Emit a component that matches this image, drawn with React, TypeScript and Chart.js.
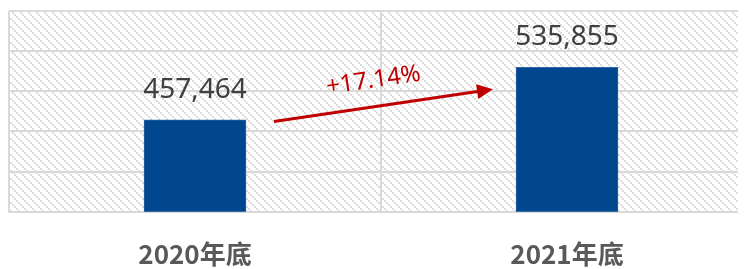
import React, { useEffect, useRef } from "react";
import { Chart, registerables } from "chart.js";

Chart.register(...registerables);

const categories = ["2020年底", "2021年底"];
const values = [457464, 535855];
const growthLabel = "+17.14%";
const yMin = 320000;
const yMax = 620000;
const yStep = 60000;

function makePattern(): CanvasPattern | string {
  const c = document.createElement("canvas");
  c.width = 8;
  c.height = 8;
  const g = c.getContext("2d");
  if (!g) return "#fff";
  g.fillStyle = "#ffffff";
  g.fillRect(0, 0, 8, 8);
  g.fillStyle = "#DCDCDC";
  for (let y = 0; y < 8; y++) {
    for (let x = 0; x < 8; x++) {
      const d = (((Math.floor(x / 2) - Math.floor(y / 2)) % 4) + 4) % 4;
      if (d === 0) g.fillRect(x, y, 1, 1);
    }
  }
  const p = g.createPattern(c, "repeat");
  return p || "#fff";
}

const bgPlugin = {
  id: "hatchBg",
  beforeDraw(chart: any) {
    const { ctx, chartArea } = chart;
    ctx.save();
    ctx.fillStyle = makePattern();
    ctx.fillRect(chartArea.left, chartArea.top, chartArea.right - chartArea.left, chartArea.bottom - chartArea.top);
    ctx.restore();
  },
};

const labelPlugin = {
  id: "valLabels",
  afterDatasetsDraw(chart: any) {
    const { ctx } = chart;
    const meta = chart.getDatasetMeta(0);
    ctx.save();
    ctx.font = "28px 'Noto Sans', sans-serif";
    ctx.fillStyle = "#404040";
    ctx.textAlign = "center";
    ctx.textBaseline = "alphabetic";
    meta.data.forEach((bar: any, i: number) => {
      ctx.fillText(values[i].toLocaleString("en-US"), bar.x, bar.y - 22);
    });

    // growth arrow
    const b0 = meta.data[0];
    const b1 = meta.data[1];
    const ys = chart.scales.y;
    const x0 = b0.x + b0.width / 2 + 28;
    const y0 = ys.getPixelForValue(455000);
    const x1 = b1.x - b1.width / 2 - 23;
    const y1 = ys.getPixelForValue(503000);
    const ang = Math.atan2(y1 - y0, x1 - x0);
    const headLen = 16;
    const headW = 7.5;
    ctx.strokeStyle = "#C00000";
    ctx.fillStyle = "#C00000";
    ctx.lineWidth = 3;
    ctx.beginPath();
    ctx.moveTo(x0, y0);
    ctx.lineTo(x1 - Math.cos(ang) * (headLen - 2), y1 - Math.sin(ang) * (headLen - 2));
    ctx.stroke();
    ctx.beginPath();
    ctx.moveTo(x1, y1);
    ctx.lineTo(
      x1 - Math.cos(ang) * headLen + Math.sin(ang) * headW,
      y1 - Math.sin(ang) * headLen - Math.cos(ang) * headW
    );
    ctx.lineTo(
      x1 - Math.cos(ang) * headLen - Math.sin(ang) * headW,
      y1 - Math.sin(ang) * headLen + Math.cos(ang) * headW
    );
    ctx.closePath();
    ctx.fill();

    // growth text
    const tx = (x0 + x1) / 2 - 9;
    const ty = (y0 + y1) / 2 - 18;
    ctx.translate(tx, ty);
    ctx.rotate(ang);
    ctx.font = "24px 'Noto Sans', sans-serif";
    ctx.textAlign = "center";
    ctx.textBaseline = "alphabetic";
    ctx.fillText(growthLabel, 0, 0);
    ctx.restore();
  },
};

export default function App() {
  const ref = useRef<HTMLCanvasElement>(null);
  useEffect(() => {
    if (!ref.current) return;
    const chart = new Chart(ref.current, {
      type: "bar",
      data: {
        labels: categories,
        datasets: [
          {
            data: values,
            backgroundColor: "#01478F",
            borderColor: "#2F64A3",
            borderWidth: 1,
            barThickness: 102,
          },
        ],
      },
      options: {
        animation: false,
        responsive: false,
        devicePixelRatio: 1,
        layout: { padding: { left: 1, right: 5, top: 3, bottom: -28 } },
        plugins: {
          legend: { display: false },
          tooltip: { enabled: false },
        },
        scales: {
          x: {
            grid: { color: "#DADADA", lineWidth: 2, drawTicks: false, offset: true },
            border: { color: "#DADADA", width: 2 },
            ticks: {
              padding: 27,
              color: "#595959",
              font: { family: "'Noto Sans CJK SC', sans-serif", size: 26, weight: "bold" },
            },
          },
          y: {
            min: yMin,
            max: yMax,
            ticks: { display: false, stepSize: yStep },
            grid: { color: "#DADADA", lineWidth: 2, drawTicks: false },
            border: { display: false },
          },
        },
      },
      plugins: [bgPlugin, labelPlugin],
    });
    return () => chart.destroy();
  }, []);
  return (
    <div style={{ width: 738, height: 261, overflow: "hidden", position: "relative" }}>
      <canvas ref={ref} width={750} height={261} style={{ display: "block" }} />
    </div>
  );
}
